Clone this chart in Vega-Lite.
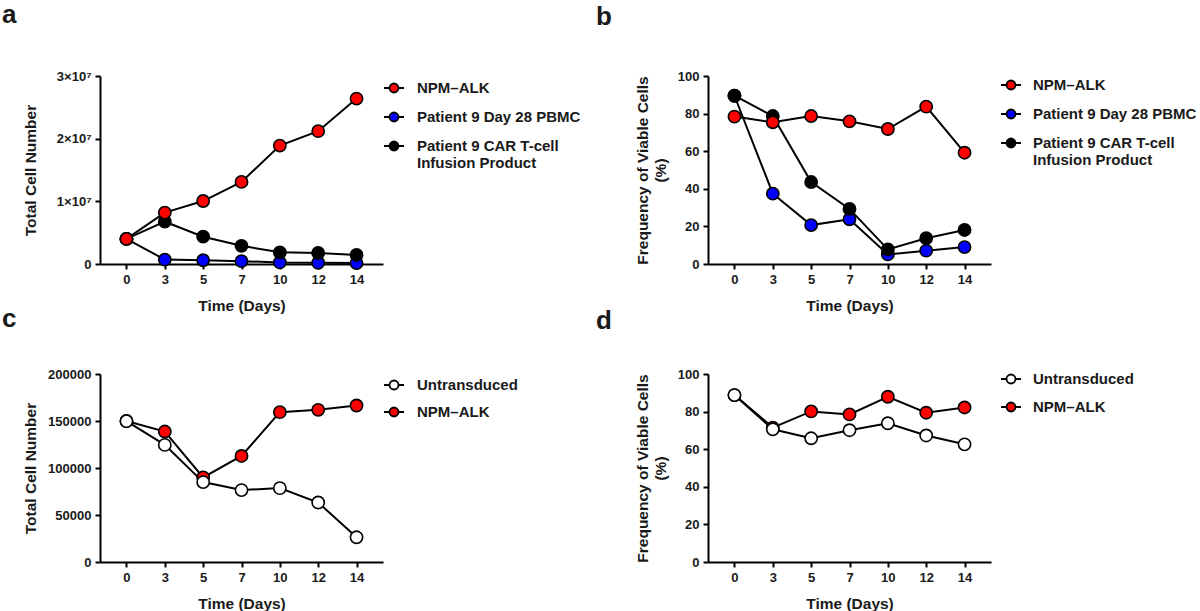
{
  "$schema": "https://vega.github.io/schema/vega-lite/v6.json",
  "padding": {"left": 2, "top": 2, "right": 0, "bottom": 0},
  "background": "white",
  "datasets": {
    "a": [
      {"series": "Patient 9 Day 28 PBMC", "day": 0, "value": 4000000},
      {"series": "Patient 9 Day 28 PBMC", "day": 3, "value": 700000},
      {"series": "Patient 9 Day 28 PBMC", "day": 5, "value": 600000},
      {"series": "Patient 9 Day 28 PBMC", "day": 7, "value": 450000},
      {"series": "Patient 9 Day 28 PBMC", "day": 10, "value": 250000},
      {"series": "Patient 9 Day 28 PBMC", "day": 12, "value": 200000},
      {"series": "Patient 9 Day 28 PBMC", "day": 14, "value": 150000},
      {"series": "Patient 9 CAR T-cell Infusion Product", "day": 0, "value": 4000000},
      {"series": "Patient 9 CAR T-cell Infusion Product", "day": 3, "value": 6750000},
      {"series": "Patient 9 CAR T-cell Infusion Product", "day": 5, "value": 4360000},
      {"series": "Patient 9 CAR T-cell Infusion Product", "day": 7, "value": 2900000},
      {"series": "Patient 9 CAR T-cell Infusion Product", "day": 10, "value": 1860000},
      {"series": "Patient 9 CAR T-cell Infusion Product", "day": 12, "value": 1760000},
      {"series": "Patient 9 CAR T-cell Infusion Product", "day": 14, "value": 1440000},
      {"series": "NPM–ALK", "day": 0, "value": 4000000},
      {"series": "NPM–ALK", "day": 3, "value": 8200000},
      {"series": "NPM–ALK", "day": 5, "value": 10050000},
      {"series": "NPM–ALK", "day": 7, "value": 13100000},
      {"series": "NPM–ALK", "day": 10, "value": 18900000},
      {"series": "NPM–ALK", "day": 12, "value": 21200000},
      {"series": "NPM–ALK", "day": 14, "value": 26400000}
    ],
    "b": [
      {"series": "Patient 9 Day 28 PBMC", "day": 0, "value": 89.5},
      {"series": "Patient 9 Day 28 PBMC", "day": 3, "value": 37.4},
      {"series": "Patient 9 Day 28 PBMC", "day": 5, "value": 20.7},
      {"series": "Patient 9 Day 28 PBMC", "day": 7, "value": 23.8},
      {"series": "Patient 9 Day 28 PBMC", "day": 10, "value": 5.1},
      {"series": "Patient 9 Day 28 PBMC", "day": 12, "value": 7.1},
      {"series": "Patient 9 Day 28 PBMC", "day": 14, "value": 9.0},
      {"series": "Patient 9 CAR T-cell Infusion Product", "day": 0, "value": 89.5},
      {"series": "Patient 9 CAR T-cell Infusion Product", "day": 3, "value": 78.7},
      {"series": "Patient 9 CAR T-cell Infusion Product", "day": 5, "value": 43.6},
      {"series": "Patient 9 CAR T-cell Infusion Product", "day": 7, "value": 29.3},
      {"series": "Patient 9 CAR T-cell Infusion Product", "day": 10, "value": 7.8},
      {"series": "Patient 9 CAR T-cell Infusion Product", "day": 12, "value": 13.7},
      {"series": "Patient 9 CAR T-cell Infusion Product", "day": 14, "value": 18.1},
      {"series": "NPM–ALK", "day": 0, "value": 78.4},
      {"series": "NPM–ALK", "day": 3, "value": 75.4},
      {"series": "NPM–ALK", "day": 5, "value": 78.7},
      {"series": "NPM–ALK", "day": 7, "value": 75.9},
      {"series": "NPM–ALK", "day": 10, "value": 71.8},
      {"series": "NPM–ALK", "day": 12, "value": 83.7},
      {"series": "NPM–ALK", "day": 14, "value": 59.2}
    ],
    "c": [
      {"series": "NPM–ALK", "day": 0, "value": 150000},
      {"series": "NPM–ALK", "day": 3, "value": 138800},
      {"series": "NPM–ALK", "day": 5, "value": 90000},
      {"series": "NPM–ALK", "day": 7, "value": 112800},
      {"series": "NPM–ALK", "day": 10, "value": 159400},
      {"series": "NPM–ALK", "day": 12, "value": 161900},
      {"series": "NPM–ALK", "day": 14, "value": 166500},
      {"series": "Untransduced", "day": 0, "value": 149800},
      {"series": "Untransduced", "day": 3, "value": 124600},
      {"series": "Untransduced", "day": 5, "value": 85000},
      {"series": "Untransduced", "day": 7, "value": 76500},
      {"series": "Untransduced", "day": 10, "value": 78600},
      {"series": "Untransduced", "day": 12, "value": 63300},
      {"series": "Untransduced", "day": 14, "value": 26300}
    ],
    "d": [
      {"series": "NPM–ALK", "day": 0, "value": 88.8},
      {"series": "NPM–ALK", "day": 3, "value": 71.5},
      {"series": "NPM–ALK", "day": 5, "value": 80.1},
      {"series": "NPM–ALK", "day": 7, "value": 78.5},
      {"series": "NPM–ALK", "day": 10, "value": 87.9},
      {"series": "NPM–ALK", "day": 12, "value": 79.4},
      {"series": "NPM–ALK", "day": 14, "value": 82.2},
      {"series": "Untransduced", "day": 0, "value": 88.8},
      {"series": "Untransduced", "day": 3, "value": 70.6},
      {"series": "Untransduced", "day": 5, "value": 65.8},
      {"series": "Untransduced", "day": 7, "value": 70.1},
      {"series": "Untransduced", "day": 10, "value": 73.8},
      {"series": "Untransduced", "day": 12, "value": 67.3},
      {"series": "Untransduced", "day": 14, "value": 62.6}
    ]
  },
  "columns": 2,
  "spacing": {"row": 110, "column": 325},
  "bounds": "flush",
  "resolve": {
    "scale": {"x": "independent", "y": "independent", "fill": "independent"},
    "legend": {"fill": "independent"},
    "axis": {"x": "independent", "y": "independent"}
  },
  "concat": [
    {
      "width": 283, "height": 188,
      "title": {"text": "a", "dx": -98, "offset": 42},
      "data": {"name": "a"},
      "encoding": {
        "x": {"field": "day", "type": "ordinal", "scale": {"type": "point", "padding": 0.69}, "axis": {"title": "Time (Days)", "labelAngle": 0}},
        "y": {"field": "value", "type": "quantitative", "scale": {"domain": [0, 30000000], "nice": false}, "axis": {"title": "Total Cell Number", "titlePadding": 18, "values": [0, 10000000, 20000000, 30000000], "labelExpr": "datum.value == 0 ? '0' : format(datum.value / 10000000, 'd') + '×10⁷'"}}
      },
      "layer": [
        {"mark": {"type": "line", "color": "black", "strokeWidth": 2}, "encoding": {"detail": {"field": "series"}}},
        {"mark": {"type": "circle", "size": 150, "opacity": 1, "stroke": "black", "strokeWidth": 1.6},
         "encoding": {"fill": {"field": "series", "type": "nominal",
           "scale": {"domain": ["NPM–ALK", "Patient 9 Day 28 PBMC", "Patient 9 CAR T-cell Infusion Product"], "range": ["#ff0000", "#0000ff", "#000000"]},
           "legend": {"orient": "none", "legendX": 283, "legendY": 1, "rowPadding": 9, "labelOffset": 12,
             "labelExpr": "datum.label == 'Patient 9 CAR T-cell Infusion Product' ? ['Patient 9 CAR T-cell', 'Infusion Product'] : datum.label"}}}}
      ]
    },
    {
      "width": 283, "height": 188,
      "title": {"text": "b", "dx": -112, "offset": 40},
      "data": {"name": "b"},
      "encoding": {
        "x": {"field": "day", "type": "ordinal", "scale": {"type": "point", "padding": 0.69}, "axis": {"title": "Time (Days)", "labelAngle": 0}},
        "y": {"field": "value", "type": "quantitative", "scale": {"domain": [0, 100], "nice": false}, "axis": {"title": ["Frequency of Viable Cells", "(%)"], "titlePadding": 9, "values": [0, 20, 40, 60, 80, 100]}}
      },
      "layer": [
        {"mark": {"type": "line", "color": "black", "strokeWidth": 2}, "encoding": {"detail": {"field": "series"}}},
        {"mark": {"type": "circle", "size": 150, "opacity": 1, "stroke": "black", "strokeWidth": 1.6},
         "encoding": {"fill": {"field": "series", "type": "nominal",
           "scale": {"domain": ["NPM–ALK", "Patient 9 Day 28 PBMC", "Patient 9 CAR T-cell Infusion Product"], "range": ["#ff0000", "#0000ff", "#000000"]},
           "legend": {"orient": "none", "legendX": 292, "legendY": -2, "rowPadding": 9, "labelOffset": 11,
             "labelExpr": "datum.label == 'Patient 9 CAR T-cell Infusion Product' ? ['Patient 9 CAR T-cell', 'Infusion Product'] : datum.label"}}}}
      ]
    },
    {
      "width": 283, "height": 188,
      "title": {"text": "c", "dx": -98, "offset": 36},
      "data": {"name": "c"},
      "encoding": {
        "x": {"field": "day", "type": "ordinal", "scale": {"type": "point", "padding": 0.69}, "axis": {"title": "Time (Days)", "labelAngle": 0}},
        "y": {"field": "value", "type": "quantitative", "scale": {"domain": [0, 200000], "nice": false}, "axis": {"title": "Total Cell Number", "titlePadding": 9, "values": [0, 50000, 100000, 150000, 200000], "format": "d"}}
      },
      "layer": [
        {"mark": {"type": "line", "color": "black", "strokeWidth": 2}, "encoding": {"detail": {"field": "series"}}},
        {"mark": {"type": "circle", "size": 150, "opacity": 1, "stroke": "black", "strokeWidth": 1.6},
         "encoding": {"fill": {"field": "series", "type": "nominal",
           "scale": {"domain": ["Untransduced", "NPM–ALK"], "range": ["#ffffff", "#ff0000"]},
           "legend": {"orient": "none", "legendX": 283, "legendY": 0, "rowPadding": 7, "labelOffset": 12}}}}
      ]
    },
    {
      "width": 283, "height": 188,
      "title": {"text": "d", "dx": -112, "offset": 34},
      "data": {"name": "d"},
      "encoding": {
        "x": {"field": "day", "type": "ordinal", "scale": {"type": "point", "padding": 0.69}, "axis": {"title": "Time (Days)", "labelAngle": 0}},
        "y": {"field": "value", "type": "quantitative", "scale": {"domain": [0, 100], "nice": false}, "axis": {"title": ["Frequency of Viable Cells", "(%)"], "titlePadding": 9, "values": [0, 20, 40, 60, 80, 100]}}
      },
      "layer": [
        {"mark": {"type": "line", "color": "black", "strokeWidth": 2}, "encoding": {"detail": {"field": "series"}}},
        {"mark": {"type": "circle", "size": 150, "opacity": 1, "stroke": "black", "strokeWidth": 1.6},
         "encoding": {"fill": {"field": "series", "type": "nominal",
           "scale": {"domain": ["Untransduced", "NPM–ALK"], "range": ["#ffffff", "#ff0000"]},
           "legend": {"orient": "none", "legendX": 292, "legendY": -6, "rowPadding": 8, "labelOffset": 11}}}}
      ]
    }
  ],
  "config": {
    "font": "Liberation Sans",
    "view": {"stroke": null},
    "title": {"anchor": "start", "frame": "group", "fontSize": 26, "fontWeight": "bold", "color": "#1a1a1a", "baseline": "alphabetic", "font": "Liberation Sans"},
    "axis": {
      "grid": false,
      "domainColor": "black", "domainWidth": 2,
      "tickColor": "black", "tickWidth": 2, "tickSize": 5,
      "labelFont": "Liberation Sans", "labelFontSize": 13, "labelFontWeight": "bold", "labelColor": "#1a1a1a", "labelPadding": 4,
      "titleFont": "Liberation Sans", "titleFontSize": 15.5, "titleFontWeight": "bold", "titleColor": "#1a1a1a", "titlePadding": 10
    },
    "axisX": {"titlePadding": 12},
    "legend": {
      "title": null, "padding": 0,
      "symbolType": "M-1,0L-0.45,0M0.45,0L1,0M-0.45,0A0.45,0.45,0,1,0,0.45,0A0.45,0.45,0,1,0,-0.45,0Z",
      "symbolSize": 400, "symbolStrokeColor": "black", "symbolStrokeWidth": 1.8, "symbolOpacity": 1,
      "labelFont": "Liberation Sans", "labelFontSize": 15, "labelFontWeight": "bold", "labelColor": "#1a1a1a", "labelLimit": 400
    }
  }
}
